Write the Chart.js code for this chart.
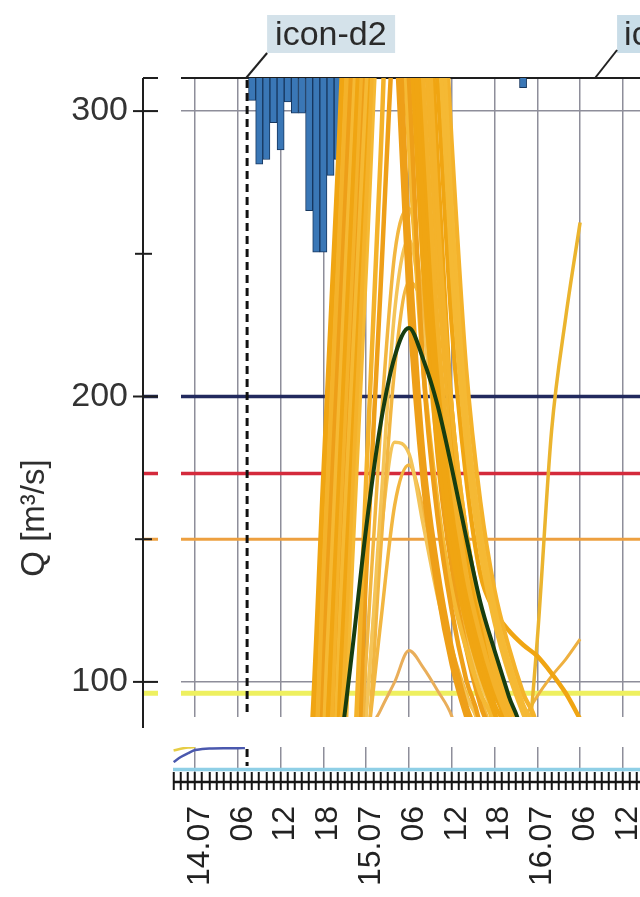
<!DOCTYPE html>
<html><head><meta charset="utf-8">
<script src="https://cdn.jsdelivr.net/npm/chart.js@4.4.1/dist/chart.umd.min.js"></script>
<style>
html,body{margin:0;padding:0;background:#fff;overflow:hidden;}
#wrap{position:relative;width:640px;height:897px;background:#fff;}
#main{position:absolute;left:0;top:0;}
#lower{position:absolute;left:0;top:735px;}
</style></head><body>
<div id="wrap">
<canvas id="main" width="640" height="735"></canvas>
<canvas id="lower" width="640" height="162"></canvas>
</div>
<script>
// ---------- data (hours counted from 14.07 00:00) ----------
const hours = [14,16,18,20,22,24,26,28,30,32,34,36,38,40,42,44,46,48,50,52,54];
const ensemble = [
  [40,67,173,279,385,400,400,400,360,265,195,153,126,107,92,80,40,40,40,40,40],
  [40,36,140,244,348,400,400,400,400,311,225,172,138,116,99,86,74,40,40,40,40],
  [40,10,114,218,322,400,400,360,255,180,140,112,92,77,40,40,40,40,40,40,40],
  [40,0,88,194,300,400,400,400,400,400,336,245,184,146,121,103,89,77,40,40,40],
  [40,40,62,166,270,373,400,400,336,245,184,146,121,103,89,77,40,40,40,40,40],
  [40,40,36,140,244,348,400,400,400,360,265,195,153,126,107,92,80,40,40,40,40],
  [40,40,38,138,237,336,400,336,232,169,132,106,88,74,40,40,40,40,40,40,40],
  [40,40,14,113,212,311,400,400,400,400,360,265,195,153,126,107,92,80,40,40,40],
  [40,40,40,88,194,300,400,400,380,288,210,163,132,112,96,83,40,40,40,40,40],
  [40,40,40,62,166,270,373,400,400,400,380,288,210,163,132,112,96,83,40,40,40],
  [40,38,138,237,336,400,400,400,311,210,158,125,101,84,40,40,40,40,40,40,40],
  [40,0,88,192,296,400,400,380,288,210,163,132,112,96,83,40,40,40,40,40,40],
  [40,46,152,258,364,400,400,400,400,380,283,195,149,119,97,81,40,40,40,40,40],
  [40,40,3,97,192,287,382,400,400,336,245,184,146,121,103,89,77,40,40,40,40],
  [40,40,72,178,284,390,400,400,360,255,180,140,112,92,77,40,40,40,40,40,40],
  [40,40,40,35,141,247,353,400,400,360,265,195,153,126,107,92,80,40,40,40,40],
  [40,40,40,62,166,270,373,400,400,400,311,225,172,138,125,118,113,109,103,96,87],
  [40,40,40,40,60,171,283,394,336,245,184,146,121,103,89,40,40,40,40,40,40],
  [40,40,40,40,38,138,237,336,380,288,210,163,132,112,96,83,40,40,40,40,40],
  [40,40,40,40,26,108,188,250,266,232,192,157,131,108,88,40,40,40,40,40,40],
  [40,40,40,40,40,88,160,230,255,225,182,146,120,100,85,40,40,40,40,40,40],
  [40,40,40,40,40,70,145,210,240,230,190,150,118,95,78,40,40,40,40,40,40],
  [40,40,40,40,40,90,150,184,180,155,130,110,95,82,40,40,40,40,40,40,40],
  [40,40,40,40,40,75,120,162,176,160,135,112,96,82,40,40,40,40,40,40,40],
  [40,40,40,40,40,78,90,100,111,105,97,88,70,40,40,40,40,40,40,40,40],
  [40,40,40,40,40,40,40,40,40,40,40,40,40,40,40,40,60,115,188,228,261],
  [40,40,40,40,40,40,40,40,40,40,40,40,40,40,40,70,86,95,102,108,115]
];
const medianQ = [40,40,40,70,110,154,190,214,224,213,197,175,151,128,111,95,80,40,40,40,40];
const thresholds = [200, 173, 150, 96];
const rainHours = [8,9,10,11,12,13,14,15,16,17,18,19,20,21,46];
const rainMm = [1.4,5.4,5.1,2.8,4.5,1.5,2.2,2.2,8.3,10.9,10.9,6.1,5.1,3.9,0.6];
const tickHours = [0,6,12,18,24,30,36,42,48,54,60];
const tickLabels = ['14.07','06','12','18','15.07','06','12','18','16.07','06','12'];
const yTicks = [100,200,300];
const yMinorTicks = [150,250];
const forecastStart = 7.3;
const secondRunStart = 56.1;
const obsHours = [-3,-2,-1,0,1,2,4,6,7];
const obsLevelA = [4,6,7.5,8.8,9.2,9.4,9.5,9.5,9.6];
const obsHoursB = [-3,-2,-1,0];
const obsLevelB = [8.6,9.3,9.8,10];
const baseHours = [-3.1,62.4];
const baseLevel = [1,1];

// ---------- styling ----------
Chart.defaults.font.family = '"Liberation Sans", Arial, sans-serif';
Chart.defaults.color = '#2a2a2a';
const X_MIN = -7.3, X_MAX = 62.4, X_MIN_LOWER = -3.086;
const gridGrey = '#8e8e9a';
const orangePalette = ['#f0a512','#f4b22a','#ee9f18','#f5b934'];
const thresholdColors = ['#222a5e','#d42a3c','#eda040','#eef060'];
const thresholdWidths = [3.5,3.5,3,5];
const noPad = s => { s.paddingTop = 0; s.paddingBottom = 0; s.paddingLeft = 0; s.paddingRight = 0; };

const datasets = [];
datasets.push({
  type:'line', label:'median', order:0,
  data: hours.map((h,k)=>({x:h,y:medianQ[k]})),
  borderColor:'#173d10', borderWidth:4, pointRadius:0, cubicInterpolationMode:'monotone'
});
ensemble.forEach((vals,i)=>{
  let col = orangePalette[i%4], w = 4.5;
  if (i>=19 && i<=23) { col = i%2 ? '#f2b640' : '#f4c458'; w = 3.5; }
  if (i===24) { col = '#e9ae5a'; w = 3; }
  if (i===25) { col = '#ebb42e'; w = 3.5; }
  if (i===26) { col = '#eeb040'; w = 3; }
  datasets.push({
    type:'line', label:'member '+(i+1), order:1,
    data: hours.map((h,k)=>({x:h,y:vals[k]})),
    borderColor: col, borderWidth:w, pointRadius:0, cubicInterpolationMode:'monotone'
  });
});
datasets.push({
  type:'bar', label:'rain', order:2, yAxisID:'y2',
  data: rainHours.map((h,k)=>({x:h,y:rainMm[k]})),
  backgroundColor:'#3a77b6', borderColor:'#17375f', borderWidth:1,
  barPercentage:1, categoryPercentage:1
});
thresholds.forEach((v,i)=>{
  datasets.push({
    type:'line', label:'threshold '+v, order:3,
    data:[{x:X_MIN,y:v},{x:X_MAX,y:v}],
    borderColor:thresholdColors[i], borderWidth:thresholdWidths[i], pointRadius:0
  });
});

const mainDecor = {
  id:'mainDecor',
  beforeDatasetsDraw(chart){
    const {ctx, chartArea:a} = chart;
    ctx.save();
    ctx.strokeStyle='#1e1e1e'; ctx.lineWidth=2;
    ctx.beginPath(); ctx.moveTo(a.left,a.top); ctx.lineTo(a.right,a.top); ctx.stroke();
    ctx.restore();
  },
  afterDatasetsDraw(chart){
    const {ctx, chartArea:a, scales:{x,y}} = chart;
    ctx.save();
    ctx.fillStyle='#ffffff';
    ctx.fillRect(a.left+15, a.top-2, 23, a.bottom-a.top+6);
    const fx = x.getPixelForValue(forecastStart);
    ctx.strokeStyle='#111'; ctx.lineWidth=3; ctx.setLineDash([8,5]);
    ctx.beginPath(); ctx.moveTo(fx,a.top+2); ctx.lineTo(fx,a.bottom); ctx.stroke();
    ctx.setLineDash([]);
    ctx.strokeStyle='#1e1e1e'; ctx.lineWidth=2;
    ctx.beginPath(); ctx.moveTo(a.left,a.top); ctx.lineTo(a.left,a.bottom+11); ctx.stroke();
    yTicks.forEach(v=>{const py=y.getPixelForValue(v);
      ctx.beginPath(); ctx.moveTo(a.left-10,py); ctx.lineTo(a.left+15,py); ctx.stroke();});
    yMinorTicks.forEach(v=>{const py=y.getPixelForValue(v);
      ctx.beginPath(); ctx.moveTo(a.left-8,py); ctx.lineTo(a.left+9,py); ctx.stroke();});
    ctx.save();
    ctx.translate(35,518); ctx.rotate(-Math.PI/2);
    ctx.fillStyle='#2e2e2e'; ctx.font='33px "Liberation Sans", Arial, sans-serif';
    ctx.textAlign='center'; ctx.textBaseline='middle';
    ctx.fillText('Q [m³/s]',0,0);
    ctx.restore();
    ctx.font='34px "Liberation Sans", Arial, sans-serif';
    ctx.textBaseline='alphabetic'; ctx.textAlign='left';
    ctx.fillStyle='#d4e2ea'; ctx.fillRect(fx+20,15,128,38);
    ctx.fillStyle='#2a2a2a'; ctx.fillText('icon-d2',fx+28,45);
    ctx.strokeStyle='#222'; ctx.lineWidth=2;
    ctx.beginPath(); ctx.moveTo(fx-1,a.top); ctx.lineTo(fx+20,53); ctx.stroke();
    const sx = x.getPixelForValue(secondRunStart);
    ctx.fillStyle='#c9dde8'; ctx.fillRect(sx+22,15,60,38);
    ctx.fillStyle='#2a2a2a'; ctx.fillText('ic',sx+29,45);
    ctx.beginPath(); ctx.moveTo(sx,a.top); ctx.lineTo(sx+22,50); ctx.stroke();
    ctx.restore();
  }
};

new Chart(document.getElementById('main'), {
  type:'line',
  data:{datasets},
  options:{
    responsive:false, animation:false, events:[],
    layout:{padding:{top:78,bottom:18,left:0,right:0}, autoPadding:false},
    plugins:{legend:{display:false}, tooltip:{enabled:false}},
    scales:{
      x:{type:'linear', min:X_MIN, max:X_MAX, offset:false,
         afterBuildTicks:s=>{s.ticks=tickHours.map(v=>({value:v}));},
         afterFit:s=>{s.height=0; noPad(s);},
         ticks:{display:false},
         grid:{color:gridGrey, lineWidth:1.5, drawTicks:false, offset:false},
         border:{display:false}},
      y:{type:'linear', min:87.7, max:311.6,
         afterBuildTicks:s=>{s.ticks=yTicks.map(v=>({value:v}));},
         afterFit:s=>{s.width=143; noPad(s);},
         ticks:{font:{size:34}, color:'#333', padding:15},
         grid:{color:gridGrey, lineWidth:1.5, drawTicks:false},
         border:{display:false}},
      y2:{type:'linear', reverse:true, min:0, max:40, display:false, afterFit:noPad}
    }
  },
  plugins:[mainDecor]
});

// ---------- lower panel + time axis ----------
const lowerDecor = {
  id:'lowerDecor',
  afterDatasetsDraw(chart){
    const {ctx, chartArea:a, scales:{x}} = chart;
    ctx.save();
    const fx = x.getPixelForValue(forecastStart);
    ctx.strokeStyle='#111'; ctx.lineWidth=3; ctx.setLineDash([8,5]);
    ctx.beginPath(); ctx.moveTo(fx,a.top+2); ctx.lineTo(fx,a.bottom-6); ctx.stroke();
    ctx.setLineDash([]);
    ctx.strokeStyle='#151515'; ctx.lineWidth=2.5;
    ctx.beginPath(); ctx.moveTo(a.left,a.bottom+10); ctx.lineTo(a.right,a.bottom+10); ctx.stroke();
    ctx.restore();
  }
};
const hourlyTicks = [];
for (let h=-3; h<=62; h++) hourlyTicks.push(h);

new Chart(document.getElementById('lower'), {
  type:'line',
  data:{datasets:[
    {label:'level A', data:obsHours.map((h,k)=>({x:h,y:obsLevelA[k]})), borderColor:'#4a58ae', borderWidth:2.5, pointRadius:0, tension:0.3},
    {label:'level B', data:obsHoursB.map((h,k)=>({x:h,y:obsLevelB[k]})), borderColor:'#e6cd45', borderWidth:2.5, pointRadius:0, tension:0.3},
    {label:'base', data:baseHours.map((h,k)=>({x:h,y:baseLevel[k]})), borderColor:'#8fcfe6', borderWidth:3.5, pointRadius:0}
  ]},
  options:{
    responsive:false, animation:false, events:[],
    layout:{padding:{top:12,bottom:0,left:173,right:0}, autoPadding:false},
    plugins:{legend:{display:false}, tooltip:{enabled:false}},
    scales:{
      x:{type:'linear', min:X_MIN_LOWER, max:X_MAX, offset:false,
         afterBuildTicks:s=>{s.ticks=hourlyTicks.map(v=>({value:v}));},
         afterFit:s=>{s.height=125; noPad(s);},
         ticks:{autoSkip:false, minRotation:90, maxRotation:90, padding:16, labelOffset:5,
                font:{size:32}, color:'#222',
                callback:(v)=>{const i=tickHours.indexOf(v); return i>=0?tickLabels[i]:'';}},
         grid:{color:c=>(c.tick && tickHours.includes(c.tick.value))?gridGrey:'rgba(0,0,0,0)',
               lineWidth:1.5, drawTicks:true, tickLength:18, tickColor:'#151515', tickWidth:2, offset:false},
         border:{display:false}},
      y:{display:false, min:0, max:10, afterFit:noPad}
    }
  },
  plugins:[lowerDecor]
});
</script>
</body></html>
